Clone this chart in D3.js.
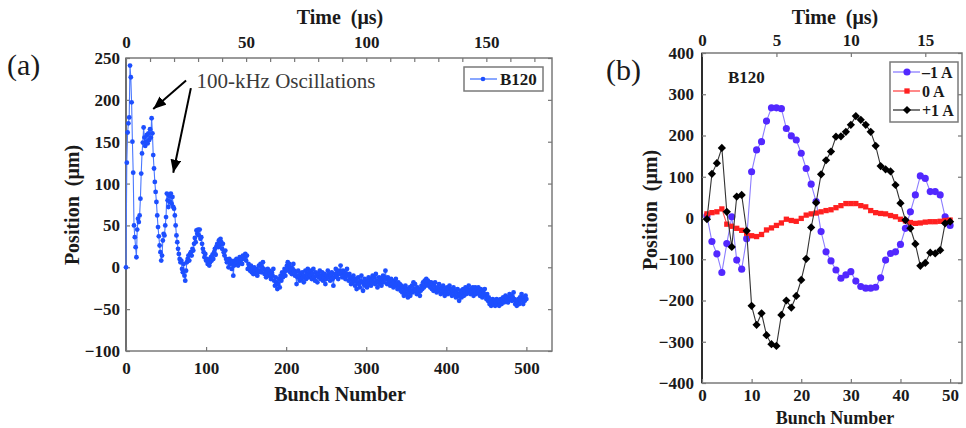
<!DOCTYPE html>
<html>
<head>
<meta charset="utf-8">
<script src="https://cdn.jsdelivr.net/npm/d3@7"></script>
<style>
body { margin: 0; background: #fff; }
svg { font-family: "Liberation Serif", "Times New Roman", Times, serif; }
svg text { font-family: "Liberation Serif", "Times New Roman", Times, serif; fill: #1a1a1a; }
.tick text { font-weight: bold; font-size: 17px; }
.tick line { stroke: #777; stroke-width: 1.2; }
</style>
</head>
<body>
<div id="mainDiv"></div>
<script>
'use strict';

// ---- panel (a): B120, bunch 0..500 ----
var positionA = [
  0, 125, 161, 172, 179, 241, 227, 197, 150, 113, 50, 36, 24, 12, 45, 58, 54, 62, 82, 112,
  136, 149, 167, 155, 145, 150, 158, 148, 160, 152, 165, 155, 178, 160, 134, 118, 102, 90, 78, 62,
  48, 37, 26, 18, 8, 14, 32, 40, 38, 50, 60, 88, 80, 72, 85, 78, 88, 76, 84, 72,
  70, 62, 50, 38, 30, 22, 16, 10, 6, 8, -2, -6, 4, -10, -16, -4, 6, 10, 14, 8,
  16, 18, 14, 22, 20, 28, 35, 30, 44, 40, 45, 38, 45, 34, 36, 28, 22, 18, 12, 16,
  8, 10, 4, 8, 2, 6, 12, 8, 15, 10, 18, 22, 15, 25, 28, 24, 32, 26, 34, 30,
  22, 28, 18, 14, 20, 10, 6, 8, 0, 10, 4, 8, -2, 6, -10, 2, 8, 4, 10, 6,
  2, 8, 12, 6, 10, 4, 14, 10, 12, 16, 8, 14, -2, 4, 0, -4, 2, -6, -2, -8,
  0, -4, -8, -2, -10, -6, 2, -4, 4, -6, 0, 6, -2, -8, -4, -12, -6, -2, -10, -4,
  -8, -14, -6, -10, -2, -16, -22, -12, -18, -26, -20, -14, -24, -10, -16, -6, -12, -8, -2, -10,
  -4, 2, 6, -2, 4, -6, 0, -8, -2, 4, -4, -10, -6, -20, -12, -4, -10, -16, -8, -14,
  -6, -12, -18, -10, -4, -14, -8, -2, -12, -6, -10, -4, -14, -8, -2, -12, -16, -6, -10, -18,
  -8, -12, -4, -14, -10, -6, -16, -12, -8, -20, -14, -10, -4, -12, -8, -16, -10, -6, -14, -22,
  -12, -8, -2, -10, -6, -14, -4, -8, 2, -6, -12, -4, -10, -6, -14, -8, -2, -10, -16, -8,
  -14, -20, -12, -18, -10, -16, -22, -14, -26, -18, -12, -20, -24, -16, -10, -18, -28, -20, -14, -22,
  -16, -24, -18, -12, -20, -14, -22, -16, -10, -18, -12, -20, -8, -16, -24, -18, -12, -20, -14, -22,
  -16, -10, -18, -12, -4, -14, -20, -12, -18, -16, -22, -14, -20, -16, -24, -18, -22, -14, -20, -26,
  -18, -24, -20, -28, -22, -30, -24, -34, -28, -22, -32, -26, -36, -30, -24, -34, -28, -22, -30, -18,
  -26, -20, -28, -32, -24, -30, -26, -34, -28, -22, -26, -18, -24, -16, -22, -14, -20, -16, -22, -18,
  -24, -18, -26, -20, -28, -22, -18, -26, -30, -24, -28, -20, -26, -32, -24, -30, -22, -28, -34, -26,
  -30, -24, -32, -26, -22, -30, -26, -34, -28, -24, -32, -28, -36, -30, -26, -34, -40, -32, -28, -36,
  -30, -26, -34, -28, -24, -32, -26, -30, -22, -28, -32, -26, -30, -24, -34, -28, -24, -32, -26, -30,
  -24, -28, -34, -26, -30, -36, -28, -32, -26, -34, -38, -32, -40, -36, -44, -40, -46, -42, -38, -44,
  -40, -46, -42, -38, -44, -40, -46, -42, -38, -44, -40, -36, -42, -38, -34, -40, -36, -42, -38, -32,
  -38, -34, -40, -36, -30, -38, -44, -40, -46, -42, -38, -44, -36, -40, -32, -38, -44, -36, -40, -34, -38
];
var bunchA = positionA.map(function (d, i) { return i; });

var ticksAY = [-100, -50, 0, 50, 100, 150, 200, 250];
var ticksAX = [0, 100, 200, 300, 400, 500];
var ticksATime = [0, 10, 20, 30, 40, 50, 60, 70, 80, 90, 100, 110, 120, 130, 140, 150, 160, 170];
var labelsATime = [0, 50, 100, 150];

// ---- panel (b): B120, bunch 1..50, three corrector settings ----
var bunchB = [1, 2, 3, 4, 5, 6, 7, 8, 9, 10, 11, 12, 13, 14, 15, 16, 17, 18, 19, 20,
  21, 22, 23, 24, 25, 26, 27, 28, 29, 30, 31, 32, 33, 34, 35, 36, 37, 38, 39, 40,
  41, 42, 43, 44, 45, 46, 47, 48, 49, 50];
var minus1A = [5, -57, -87, -132, -62, 3, -102, -124, -50, 112, 165, 185, 235, 267, 267, 265, 217, 199, 189, 157,
  120, 82, 40, -33, -82, -104, -126, -146, -138, -130, -153, -166, -170, -170, -168, -145, -102, -86, -82, -64,
  -25, 15, 56, 102, 96, 64, 64, 56, 3, -18];
var zeroA = [10, 13, 15, 22, -15, -20, -25, -30, -37, -43, -45, -40, -29, -24, -18, -12, -3, -6, -8, -1,
  7, 10, 12, 15, 18, 20, 25, 30, 35, 35, 35, 30, 27, 18, 13, 11, 10, 6, 3, -3,
  -7, -11, -13, -12, -10, -9, -9, -8, -6, -5];
var plus1A = [-3, 107, 133, 170, 15, -70, 52, 56, -31, -213, -259, -231, -284, -306, -310, -235, -200, -217, -189, -150,
  -99, -23, 37, 106, 140, 161, 197, 198, 209, 226, 247, 238, 226, 209, 175, 126, 118, 113, 80, 36,
  -5, -25, -63, -116, -109, -84, -86, -78, -13, -9];

var ticksBY = [-400, -300, -200, -100, 0, 100, 200, 300, 400];
var ticksBX = [0, 10, 20, 30, 40, 50];
var ticksBTime = [0, 5, 10, 15];

var seriesB = [
  { name: '\u20131 A', values: minus1A, color: '#5228ff', line: '#8c7dff', shape: 'circle' },
  { name: '0 A', values: zeroA, color: '#ff2020', line: '#ff4a4a', shape: 'square' },
  { name: '+1 A', values: plus1A, color: '#000000', line: '#333333', shape: 'diamond' }
];

var serif = '"Liberation Serif", "Times New Roman", Times, serif';

var chart = {};
chart.width = 966;
chart.height = 428;

chart.markerPath = function (shape) {
  if (shape === 'circle') return d3.symbol(d3.symbolCircle, 40)();
  if (shape === 'square') return d3.symbol(d3.symbolSquare, 28)();
  return d3.symbol(d3.symbolSquare, 34)();
};

chart.drawFrame = function (svg, x0, y0, x1, y1, leftColor) {
  svg.append('rect')
    .attr('x', x0).attr('y', y0)
    .attr('width', x1 - x0).attr('height', y1 - y0)
    .attr('fill', 'none').attr('stroke', '#7a7a7a').attr('stroke-width', 1.5);
  svg.append('line')
    .attr('x1', x0).attr('x2', x0).attr('y1', y0).attr('y2', y1)
    .attr('stroke', leftColor).attr('stroke-width', 1.8);
};

chart.cleanAxis = function (g) {
  g.attr('font-family', serif).attr('font-size', 17).attr('font-weight', 'bold');
  g.select('.domain').remove();
  g.selectAll('.tick text').attr('fill', '#1a1a1a').attr('font-family', serif);
};

chart.label = function (svg, x, y, txt, size, bold) {
  return svg.append('text')
    .attr('x', x).attr('y', y)
    .attr('font-family', serif)
    .attr('font-size', size)
    .attr('font-weight', bold ? 'bold' : 'normal')
    .attr('xml:space', 'preserve')
    .text(txt);
};

chart.panelA = function (svg) {
  var x = d3.scaleLinear().domain([0, 532]).range([126, 552]);
  var y = d3.scaleLinear().domain([-100, 250]).range([351, 58]);
  var t = d3.scaleLinear().domain([0, 532 / 3]).range([126, 552]);

  chart.drawFrame(svg, 126, 58, 552, 351, '#6a6a6a');

  svg.append('g').attr('transform', 'translate(126,0)')
    .call(d3.axisLeft(y).tickValues(ticksAY).tickSize(-4).tickPadding(6))
    .call(chart.cleanAxis);
  svg.append('g').attr('transform', 'translate(552,0)')
    .call(d3.axisRight(y).tickValues(ticksAY).tickSize(-4).tickFormat(''))
    .call(chart.cleanAxis);
  svg.append('g').attr('transform', 'translate(0,351)')
    .call(d3.axisBottom(x).tickValues(ticksAX).tickSize(-4).tickPadding(11))
    .call(chart.cleanAxis);
  svg.append('g').attr('transform', 'translate(0,58)')
    .call(d3.axisTop(t).tickValues(ticksATime).tickSize(-4).tickPadding(10)
      .tickFormat(function (d) { return labelsATime.indexOf(d) >= 0 ? d : ''; }))
    .call(chart.cleanAxis);

  var line = d3.line()
    .x(function (d, i) { return x(bunchA[i]); })
    .y(function (d) { return y(d); });

  svg.append('path').datum(positionA)
    .attr('d', line)
    .attr('fill', 'none')
    .attr('stroke', '#4a78ff')
    .attr('stroke-width', 1.1);

  svg.append('g').selectAll('circle')
    .data(positionA)
    .enter()
    .append('circle')
      .attr('cx', function (d, i) { return x(bunchA[i]); })
      .attr('cy', function (d) { return y(d); })
      .attr('r', 2.4)
      .attr('fill', '#1d4fff');

  // titles
  chart.label(svg, 340, 24, 'Time  (\u03bcs)', 20, true).attr('text-anchor', 'middle');
  chart.label(svg, 340, 401, 'Bunch Number', 20, true).attr('text-anchor', 'middle');
  chart.label(svg, 0, 0, 'Position  (\u03bcm)', 20, true)
    .attr('text-anchor', 'middle')
    .attr('transform', 'translate(79,205) rotate(-90)');
  chart.label(svg, 7, 75, '(a)', 30, false);

  // legend
  svg.append('rect').attr('x', 464).attr('y', 67).attr('width', 79).attr('height', 24)
    .attr('fill', '#fff').attr('stroke', '#7a7a7a').attr('stroke-width', 1.5);
  svg.append('line').attr('x1', 470).attr('x2', 497).attr('y1', 79).attr('y2', 79)
    .attr('stroke', '#4a78ff').attr('stroke-width', 1.3);
  svg.append('circle').attr('cx', 483).attr('cy', 79).attr('r', 2.3).attr('fill', '#1d4fff');
  chart.label(svg, 500, 85, 'B120', 17, true);

  // annotation
  var defs = svg.append('defs');
  defs.append('marker')
    .attr('id', 'arrowHead')
    .attr('viewBox', '0 0 12 10')
    .attr('refX', 12).attr('refY', 5)
    .attr('markerWidth', 13).attr('markerHeight', 11)
    .attr('markerUnits', 'userSpaceOnUse')
    .attr('orient', 'auto')
    .append('path').attr('d', 'M0,0 L12,5 L0,10 Z').attr('fill', '#000');

  var arrows = [
    { from: [75, 223], to: [34, 189] },
    { from: [81, 214], to: [59, 113] }
  ];
  svg.append('g').selectAll('line')
    .data(arrows)
    .enter()
    .append('line')
      .attr('x1', function (d) { return x(d.from[0]); })
      .attr('y1', function (d) { return y(d.from[1]); })
      .attr('x2', function (d) { return x(d.to[0]); })
      .attr('y2', function (d) { return y(d.to[1]); })
      .attr('stroke', '#000').attr('stroke-width', 2)
      .attr('marker-end', 'url(#arrowHead)');

  chart.label(svg, x(88), y(220), '100-kHz Oscillations', 21, false)
    .attr('dominant-baseline', 'middle')
    .style('fill', '#3a3a3a');
};

chart.panelB = function (svg) {
  var x = d3.scaleLinear().domain([0, 52.4]).range([702, 962]);
  var y = d3.scaleLinear().domain([-400, 400]).range([383, 53]);
  var t = d3.scaleLinear().domain([0, 52.4 / 3]).range([702, 962]);

  chart.drawFrame(svg, 702, 53, 962, 383, '#222');

  svg.append('g').attr('transform', 'translate(702,0)')
    .call(d3.axisLeft(y).tickValues(ticksBY).tickSize(-4).tickPadding(8))
    .call(chart.cleanAxis);
  svg.append('g').attr('transform', 'translate(962,0)')
    .call(d3.axisRight(y).tickValues(ticksBY).tickSize(-4).tickFormat(''))
    .call(chart.cleanAxis);
  svg.append('g').attr('transform', 'translate(0,383)')
    .call(d3.axisBottom(x).tickValues(ticksBX).tickSize(-4).tickPadding(6))
    .call(chart.cleanAxis);
  svg.append('g').attr('transform', 'translate(0,53)')
    .call(d3.axisTop(t).tickValues(ticksBTime).tickSize(-4).tickPadding(7))
    .call(chart.cleanAxis);

  seriesB.forEach(function (s) {
    var line = d3.line()
      .x(function (d, i) { return x(bunchB[i]); })
      .y(function (d) { return y(d); });

    svg.append('path').datum(s.values)
      .attr('d', line)
      .attr('fill', 'none')
      .attr('stroke', s.line)
      .attr('stroke-width', 1.1);

    svg.append('g').selectAll('path')
      .data(s.values)
      .enter()
      .append('path')
        .attr('d', chart.markerPath(s.shape))
        .attr('transform', function (d, i) {
          var r = s.shape === 'diamond' ? ' rotate(45)' : '';
          return 'translate(' + x(bunchB[i]) + ',' + y(d) + ')' + r;
        })
        .attr('fill', s.color);
  });

  chart.label(svg, 835, 24, 'Time  (\u03bcs)', 20, true).attr('text-anchor', 'middle');
  chart.label(svg, 835, 424, 'Bunch Number', 18, true).attr('text-anchor', 'middle');
  chart.label(svg, 0, 0, 'Position  (\u03bcm)', 20, true)
    .attr('text-anchor', 'middle')
    .attr('transform', 'translate(657,210) rotate(-90)');
  chart.label(svg, 606, 80, '(b)', 30, false);
  chart.label(svg, 728, 83, 'B120', 17, true);

  // legend
  svg.append('rect').attr('x', 890).attr('y', 62).attr('width', 68).attr('height', 60)
    .attr('fill', '#fff').attr('stroke', '#7a7a7a').attr('stroke-width', 1.5);
  var item = svg.append('g').selectAll('g')
    .data(seriesB)
    .enter()
    .append('g')
      .attr('transform', function (d, i) { return 'translate(0,' + (72 + i * 19) + ')'; });
  item.append('line').attr('x1', 893).attr('x2', 920)
    .attr('stroke', function (d) { return d.line; }).attr('stroke-width', 1.3);
  item.append('path')
    .attr('d', function (d) { return chart.markerPath(d.shape); })
    .attr('transform', function (d) { return 'translate(907,0)' + (d.shape === 'diamond' ? ' rotate(45)' : ''); })
    .attr('fill', function (d) { return d.color; });
  item.append('text').attr('x', 922).attr('y', 6)
    .attr('font-family', serif)
    .attr('font-size', 16).attr('font-weight', 'bold')
    .text(function (d) { return d.name; });
};

chart.run = function () {
  var svg = d3.select('#mainDiv').append('svg')
    .attr('width', chart.width)
    .attr('height', chart.height);
  chart.panelA(svg);
  chart.panelB(svg);
};

window.onload = chart.run;
</script>
</body>
</html>
